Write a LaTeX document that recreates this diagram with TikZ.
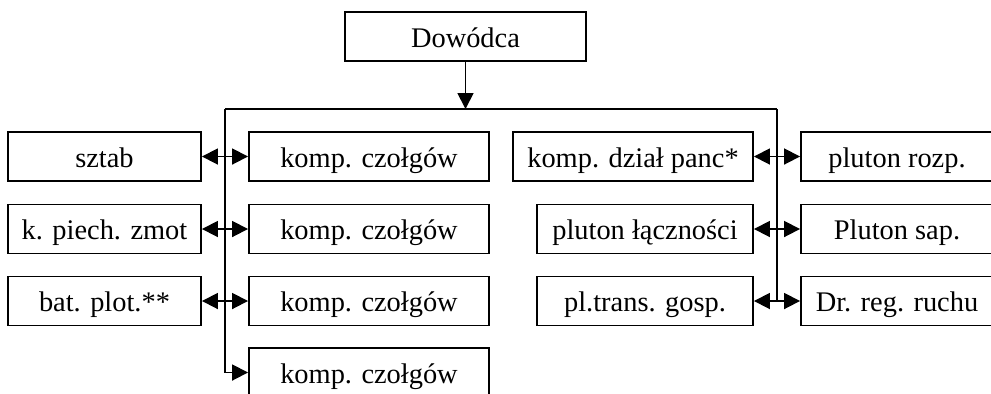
\documentclass[tikz,border=0pt]{standalone}
\usepackage{fontspec}
\setmainfont{Liberation Serif}
\usetikzlibrary{arrows, arrows.meta}

\begin{document}
\begin{tikzpicture}[x=0.5pt, y=-0.5pt, >={Triangle[length=8pt, width=8pt]}]
\tikzstyle{unit}=[draw, rectangle, line width=0.95pt, minimum height=24.5pt, inner sep=0pt,
  text height=13.5pt, text depth=3pt, font=\fontsize{14.2}{17}\selectfont]
\tikzstyle{link}=[line width=0.9pt]
\useasboundingbox (0,0) rectangle (991,393);

% dowodca
\node[unit, minimum width=120.5pt] (dow) at (465.5,36.5) {Dowódca};

% lewa kolumna
\node[unit, minimum width=96.5pt] (sztab) at (104.5,156.5) {sztab};
\node[unit, minimum width=96.5pt] (piech) at (104.5,229) {k. piech. zmot};
\node[unit, minimum width=96.5pt] (plot) at (104.5,301) {bat. plot.**};

% kompanie czolgow
\node[unit, minimum width=120pt] (kc1) at (369,156.5) {komp. czołgów};
\node[unit, minimum width=120pt] (kc2) at (369,229) {komp. czołgów};
\node[unit, minimum width=120pt] (kc3) at (369,301) {komp. czołgów\hspace{18pt}};
\node[unit, minimum width=120pt] (kc4) at (369,372.5) {komp. czołgów};

% prawa strona
\node[unit, minimum width=120pt] (dzial) at (633,156.5) {komp. dział panc*};
\node[unit, minimum width=108pt] (lacz) at (645,229) {pluton łączności};
\node[unit, minimum width=108pt] (trans) at (645,301) {pl.trans. gosp.};
\node[unit, minimum width=96pt] (rozp) at (897,156.5) {pluton rozp.};
\node[unit, minimum width=96pt] (sap) at (897,229) {Pluton sap.};
\node[unit, minimum width=96pt] (ruch) at (897,301) {Dr. reg. ruchu};

\coordinate (bl) at (225,109);
\coordinate (br) at (777,109);

\draw[link, ->] (dow) -- (dow |- bl);
\draw[link] (bl) -- (br);
\draw[link, ->] (bl) |- (kc4);
\draw[link] (br) -- (br |- ruch.west);

\path[link]
(sztab) edge[<->] (kc1)
(piech) edge[<->] (kc2)
(plot)  edge[<->] (kc3)
(dzial) edge[<->] (rozp)
(lacz)  edge[<->] (sap)
(trans) edge[<->] (ruch);
\end{tikzpicture}
\end{document}
